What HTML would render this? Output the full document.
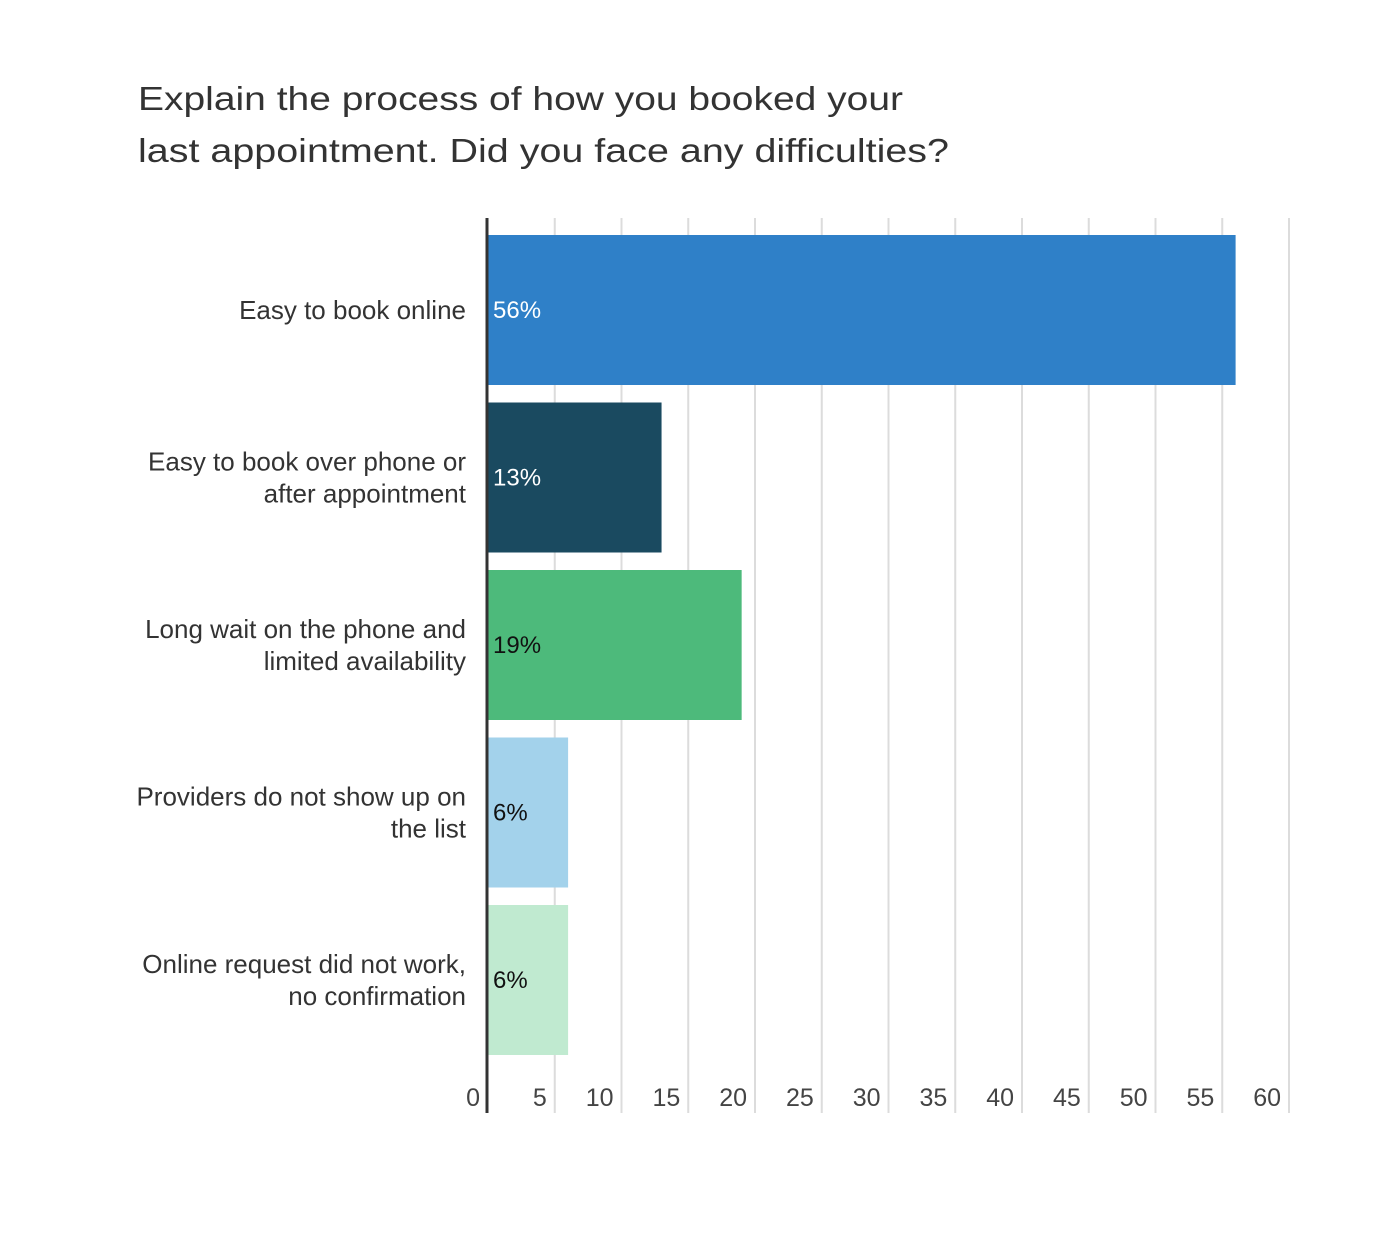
<!DOCTYPE html>
<html><head><meta charset="utf-8"><style>
body{margin:0;background:#fff;}
svg text{font-family:"Liberation Sans",sans-serif;}
</style></head><body>
<svg id="chart" width="1400" height="1240" xmlns="http://www.w3.org/2000/svg">
<rect width="1400" height="1240" fill="#fff"/>
<text x="138" y="110" font-size="33" fill="#333" textLength="765" lengthAdjust="spacingAndGlyphs">Explain the process of how you booked your</text>
<text x="138" y="162" font-size="33" fill="#333" textLength="811" lengthAdjust="spacingAndGlyphs">last appointment. Did you face any difficulties?</text>
<g id="grid"></g><g id="bars"></g><g id="labels"></g>
</svg>
<script>
const categories=[["Easy to book online"],["Easy to book over phone or","after appointment"],["Long wait on the phone and","limited availability"],["Providers do not show up on","the list"],["Online request did not work,","no confirmation"]];
const values=[56,13,19,6,6];
const valueLabels=["56%","13%","19%","6%","6%"];
const ticks=[0,5,10,15,20,25,30,35,40,45,50,55,60];
const colors=["#2f80c8","#1a4a60","#4dba7b","#a3d2eb","#c0ead0"];
const textColors=["#fff","#fff","#111","#111","#111"];
const NS="http://www.w3.org/2000/svg";
const xStart=488,xEnd=1289,yTop=218,yBottom=1113,xMax=60;
const xScale=v=>xStart+(xEnd-xStart)*v/xMax;
const bandTop=226,band=167.5,barH=150;
const yScale=i=>bandTop+band*i+9;
function mk(t,a,p){const e=document.createElementNS(NS,t);for(const k in a)e.setAttribute(k,a[k]);document.getElementById(p).appendChild(e);return e;}
ticks.forEach((t)=>{
 if(t>0){const l=mk("line",{x1:xScale(t),x2:xScale(t),y1:yTop,y2:yBottom,stroke:"#dcdcdc","stroke-width":2},"grid");
 
 }
 const tx=mk("text",{x:xScale(t)-8,y:1106,"text-anchor":"end","font-size":25,fill:"#444"},"labels");
 tx.textContent=t;
 
 
});
values.forEach((v,i)=>{
 const r=mk("rect",{x:xStart,y:yScale(i),width:xScale(v)-xStart,height:barH,fill:colors[i]},"bars");
 
 
 const vl=mk("text",{x:xStart+5,y:yScale(i)+barH/2+8,"font-size":24,fill:textColors[i]},"labels");
 vl.textContent=valueLabels[i];
 
 
 const lines=categories[i];
 lines.forEach((s,j)=>{
  const cy=yScale(i)+barH/2+9+(j-(lines.length-1)/2)*32;
  const c=mk("text",{x:466,y:cy,"text-anchor":"end","font-size":26,fill:"#333"},"labels");
  c.textContent=s;
  
  
 });
});
const ax=mk("line",{x1:487,x2:487,y1:yTop,y2:yBottom,stroke:"#333","stroke-width":3},"labels");


</script>
</body></html>
